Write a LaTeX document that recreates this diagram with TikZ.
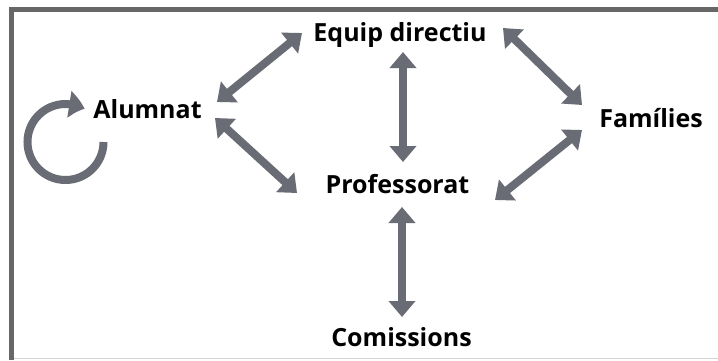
\documentclass[tikz,border=0pt]{standalone}
\usepackage{fontspec}
\setmainfont{Open Sans}
\usetikzlibrary{arrows.meta,bending}
\definecolor{arrgray}{HTML}{6A6C75}
\definecolor{framegray}{HTML}{676767}
\definecolor{lightline}{HTML}{D4D4D4}
\tikzset{
  lbl/.style={anchor=base,inner sep=0pt,font=\fontsize{25}{28}\selectfont\bfseries},
  dbl/.style={draw=arrgray,line width=8pt,{Triangle[length=16pt,width=26pt]}-{Triangle[length=16pt,width=26pt]}},
}
\begin{document}
\begin{tikzpicture}[x=1pt,y=-1pt]
\useasboundingbox (0,0) rectangle (718,360);
\fill[white] (0,0) rectangle (718,360);
% frame
\draw[framegray,line width=5pt] (718,9.5) -- (11.5,9.5) -- (11.5,360);
\draw[lightline,line width=1.2pt] (14,358.5) -- (718,358.5);
% labels
\node[lbl] (equip) at (400,41) {Equip directiu};
\node[lbl] (alumnat) at (147.5,118) {Alumnat};
\node[lbl] (families) at (651,127) {Famílies};
\node[lbl] (prof) at (397.5,193) {Professorat};
\node[lbl] (comis) at (401.5,346) {Comissions};
% connector ends
\coordinate (aE1) at (217,102); \coordinate (aE2) at (302,33);
\coordinate (aP1) at (215,118); \coordinate (aP2) at (297,193);
\coordinate (eP1) at (403,52);  \coordinate (eP2) at (403,162);
\coordinate (eF1) at (503,28);  \coordinate (eF2) at (582,105);
\coordinate (pF1) at (495,200); \coordinate (pF2) at (582,130);
\coordinate (pC1) at (402,207); \coordinate (pC2) at (402,317);
\draw[dbl] (aE1) -- (aE2);
\draw[dbl] (aP1) -- (aP2);
\draw[dbl] (eP1) -- (eP2);
\draw[dbl] (eF1) -- (eF2);
\draw[dbl] (pF1) -- (pF2);
\draw[dbl] (pC1) -- (pC2);
% circular arrow
\coordinate (cyc) at (65.5,142);
\draw[arrgray,line width=8pt,-{Triangle[length=16pt,width=26pt,bend]}]
  (cyc) ++(0:38) arc[start angle=0,end angle=300,radius=38];
\end{tikzpicture}
\end{document}
